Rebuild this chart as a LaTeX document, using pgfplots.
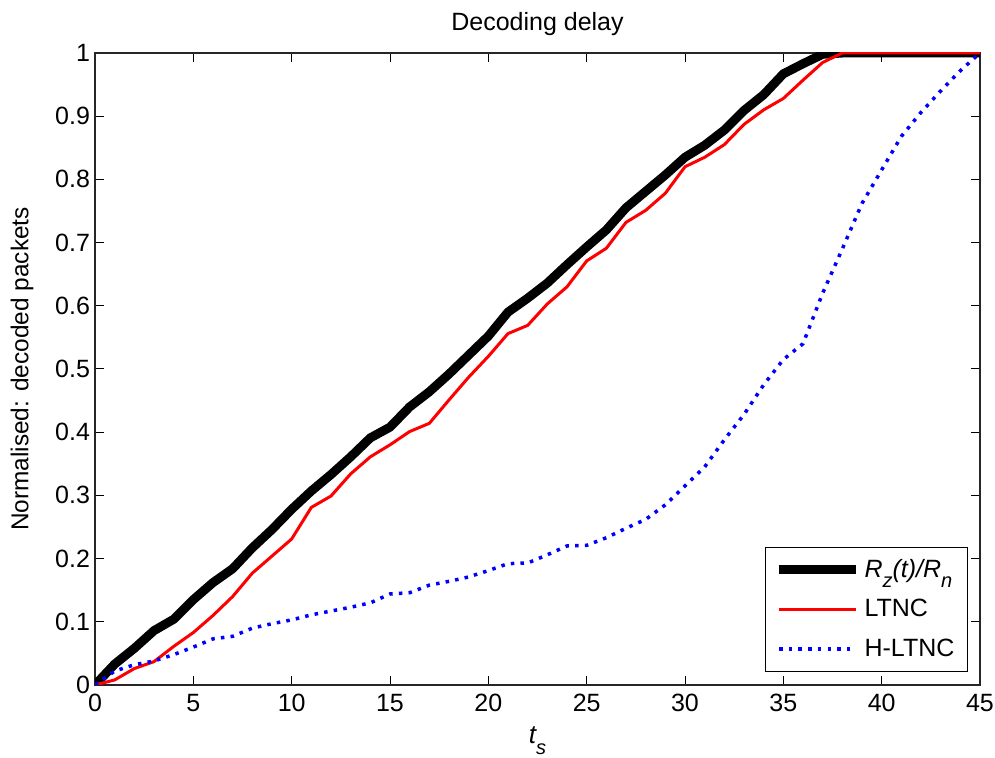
\documentclass[border=0pt]{standalone}
\usepackage{fontspec}
\setmainfont{Liberation Sans}
\usepackage{pgfplots}
\pgfplotsset{compat=1.18}
\newcommand{\sub}[1]{\raisebox{-0.42em}{\fontsize{10}{10}\selectfont #1}}
\begin{document}
\begin{tikzpicture}
\path[use as bounding box] (-47.5pt,-36.5pt) rectangle (450pt,342.5pt);
\begin{axis}[
  scale only axis, width=442.5pt, height=316pt,
  xmin=0, xmax=45, ymin=0, ymax=1,
  xtick={0,5,10,15,20,25,30,35,40,45},
  ytick={0,0.1,0.2,0.3,0.4,0.5,0.6,0.7,0.8,0.9,1},
  yticklabels={0,0.1,0.2,0.3,0.4,0.5,0.6,0.7,0.8,0.9,1},
  /pgf/number format/assume math mode=true,
  tick align=inside, major tick length=4.5pt,
  every tick/.style={black, line width=0.5pt},
  axis line style={line width=0.8pt, black!85},
  tick label style={font=\fontsize{12.5}{14}\selectfont},
  xticklabel style={yshift=-1pt},
  yticklabel style={xshift=1pt},
  title={Decoding delay},
  title style={font=\fontsize{12.5}{14}\selectfont, at={(axis description cs:0.5,1.0348)}, anchor=base, yshift=-6pt},
  xlabel={\textit{t\sub{s}}},
  xlabel style={font=\fontsize{13}{15}\selectfont, at={(axis description cs:0.5,-0.092)}, anchor=base},
  ylabel={Normalised: decoded packets},
  ylabel style={font=\fontsize{12.2}{14}\selectfont, at={(axis description cs:-0.0825,0.5)}, anchor=center},
  legend cell align=left,
  legend style={at={(rel axis cs:1,0)}, anchor=south east, xshift=-6pt, yshift=6.5pt,
    font=\fontsize{12.5}{14}\selectfont, draw=black, line width=0.6pt,
    inner xsep=4.5pt, inner ysep=4pt, row sep=5.5pt},
  legend image code/.code={\draw[#1] (0cm,0cm) -- (38.5pt,0cm);},
]
\addplot[black, line width=4.5pt, line join=round] coordinates {
(0,0) (1,0.033) (2,0.058) (3,0.086) (4,0.104) (5,0.135) (6,0.162) (7,0.184) (8,0.217)
(9,0.246) (10,0.278) (11,0.307) (12,0.333) (13,0.361) (14,0.391) (15,0.408) (16,0.44)
(17,0.464) (18,0.492) (19,0.522) (20,0.552) (21,0.59) (22,0.612) (23,0.636) (24,0.665)
(25,0.693) (26,0.72) (27,0.755) (28,0.781) (29,0.807) (30,0.835) (31,0.854) (32,0.878)
(33,0.909) (34,0.934) (35,0.967) (36,0.983) (37,0.998) (38,1) (39,1) (40,1) (41,1)
(42,1) (43,1) (44,1) (45,1)};
\addlegendentry{\textit{R\sub{z}(t)/R\sub{n}}}
\addplot[red, line width=1.5pt] coordinates {
(0,0) (1,0.008) (2,0.026) (3,0.037) (4,0.061) (5,0.083) (6,0.11) (7,0.14) (8,0.177)
(9,0.204) (10,0.231) (11,0.281) (12,0.299) (13,0.334) (14,0.361) (15,0.38) (16,0.401)
(17,0.414) (18,0.451) (19,0.487) (20,0.52) (21,0.556) (22,0.569) (23,0.603) (24,0.63)
(25,0.671) (26,0.691) (27,0.732) (28,0.751) (29,0.778) (30,0.82) (31,0.835) (32,0.855)
(33,0.887) (34,0.91) (35,0.928) (36,0.957) (37,0.985) (38,1) (39,1) (40,1) (41,1)
(42,1) (43,1) (44,1) (45,1)};
\addlegendentry{LTNC}
\addplot[blue, line width=1.75pt, dash pattern=on 1.75pt off 3.1pt] coordinates {
(0,0) (1,0.022) (2,0.032) (3,0.038) (4,0.048) (5,0.06) (6,0.073) (7,0.077) (8,0.09)
(9,0.097) (10,0.103) (11,0.111) (12,0.117) (13,0.123) (14,0.13) (15,0.144) (16,0.146)
(17,0.158) (18,0.164) (19,0.171) (20,0.181) (21,0.192) (22,0.193) (23,0.206) (24,0.22)
(25,0.221) (26,0.233) (27,0.248) (28,0.262) (29,0.285) (30,0.315) (31,0.345) (32,0.388)
(33,0.428) (34,0.475) (35,0.515) (36,0.54) (37,0.62) (38,0.69) (39,0.762) (40,0.815)
(41,0.868) (42,0.906) (43,0.94) (44,0.972) (45,1)};
\addlegendentry{H-LTNC}
\end{axis}
\end{tikzpicture}
\end{document}
